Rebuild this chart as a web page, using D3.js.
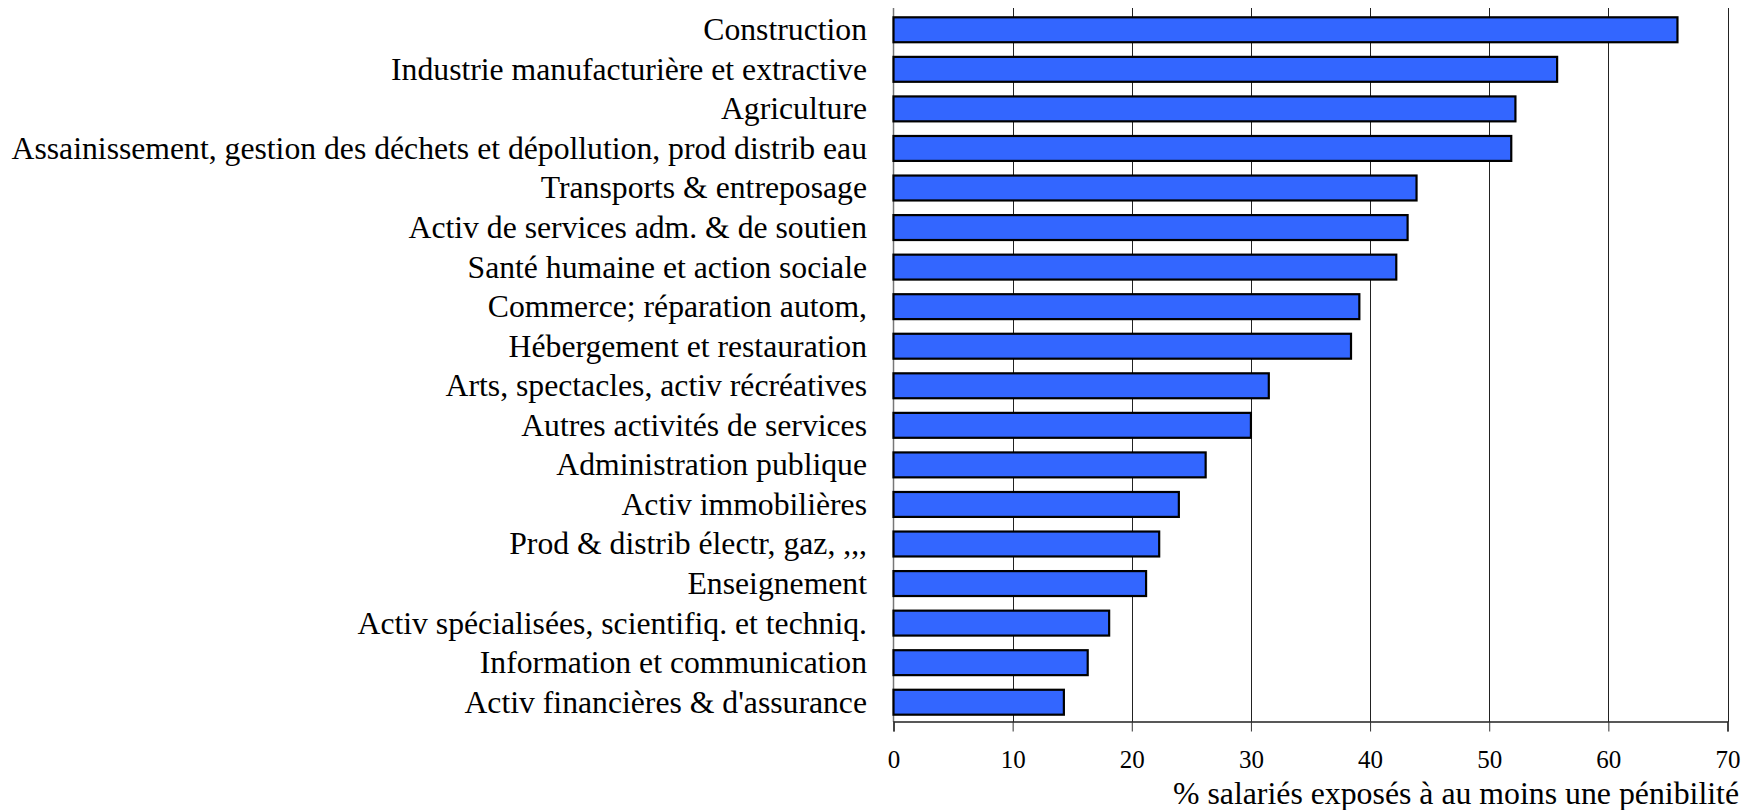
<!DOCTYPE html>
<html>
<head>
<meta charset="utf-8">
<script src="https://cdn.jsdelivr.net/npm/d3@7"></script>
<style>
  html, body { margin: 0; padding: 0; background: #fff; }
  svg { display: block; }
  text { font-family: "Liberation Serif", "Times New Roman", serif; fill: #000; }
</style>
</head>
<body>
<svg id="chart" width="1746" height="810"></svg>
<script>
const categories = [
  "Construction",
  "Industrie manufacturière et extractive",
  "Agriculture",
  "Assainissement, gestion des déchets et dépollution, prod distrib eau",
  "Transports & entreposage",
  "Activ de services adm. & de soutien",
  "Santé humaine et action sociale",
  "Commerce; réparation autom,",
  "Hébergement et restauration",
  "Arts, spectacles, activ récréatives",
  "Autres activités de services",
  "Administration publique",
  "Activ immobilières",
  "Prod & distrib électr, gaz, ,,,",
  "Enseignement",
  "Activ spécialisées, scientifiq. et techniq.",
  "Information et communication",
  "Activ financières & d'assurance"
];
const values = [65.8, 55.7, 52.2, 51.85, 43.9, 43.15, 42.2, 39.1, 38.4, 31.5, 30.0, 26.2, 23.95, 22.3, 21.2, 18.1, 16.3, 14.3];
const tickValues = [0, 10, 20, 30, 40, 50, 60, 70];
const axisTitle = "% salariés exposés à au moins une pénibilité";

const svg = d3.select("#chart");
const plot = { left: 893.5, right: 1727.5, top: 10, bottom: 722 };

const x = d3.scaleLinear().domain([0, 70]).range([plot.left, plot.right]);
const y = d3.scaleBand().domain(categories).range([plot.top, plot.bottom])
  .paddingInner(0.37).paddingOuter(0.185);

// vertical gridlines
svg.append("g").selectAll("line").data(tickValues.slice(1)).join("line")
  .attr("x1", d => Math.round(x(d)) + 0.5).attr("x2", d => Math.round(x(d)) + 0.5)
  .attr("y1", plot.top - 2).attr("y2", plot.bottom)
  .attr("stroke", "#222").attr("stroke-width", 1);

// left axis line
svg.append("line")
  .attr("x1", plot.left).attr("x2", plot.left)
  .attr("y1", plot.top - 2).attr("y2", plot.bottom)
  .attr("stroke", "#777").attr("stroke-width", 1.5);

// bottom axis
const xAxis = d3.axisBottom(x).tickValues(tickValues).tickSize(10).tickPadding(19).tickFormat(d3.format("d"));
const gx = svg.append("g").attr("transform", `translate(0,${plot.bottom - 0.5})`).call(xAxis);
gx.select(".domain").attr("stroke", "#222").attr("stroke-width", 1.5);
gx.selectAll(".tick line").attr("stroke", "#333");
gx.selectAll(".tick text")
  .style("font-family", '"Liberation Serif", "Times New Roman", serif')
  .style("font-size", "25px").attr("fill", "#000");

// bars
svg.append("g").selectAll("rect").data(values).join("rect")
  .attr("x", x(0))
  .attr("y", (d, i) => y(categories[i]))
  .attr("width", d => x(d) - x(0))
  .attr("height", y.bandwidth())
  .attr("fill", "#3366ff")
  .attr("stroke", "#000")
  .attr("stroke-width", 2.2);

// category labels
const labelX = 867;
svg.append("g").selectAll("text").data(categories).join("text")
  .attr("x", labelX)
  .attr("y", d => y(d) + y.bandwidth() / 2)
  .attr("dy", "0.33em")
  .attr("text-anchor", "end")
  .style("font-size", "31.7px")
  .text(d => d);

// axis title
svg.append("text")
  .attr("x", 1739).attr("y", 804)
  .attr("text-anchor", "end")
  .style("font-size", "31.8px")
  .text(axisTitle);
</script>
</body>
</html>
